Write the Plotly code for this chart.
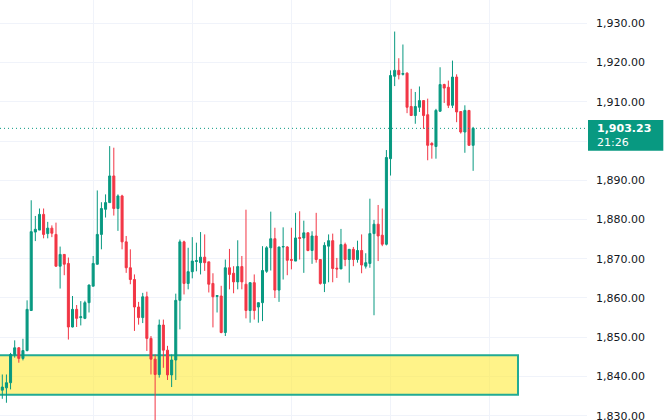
import plotly.graph_objects as go

# 15 min style candles (oldest first)
opens = [1836.5, 1837.1, 1838.4, 1845.6, 1847.3, 1844.6, 1846.6, 1856.8, 1876.8, 1877.3,
         1881.3, 1876.4, 1877.8, 1876.2, 1868.1, 1871.1, 1868.8, 1852.6, 1857.1, 1855.0,
         1854.8, 1858.8, 1863.0, 1868.6, 1876.2, 1882.6, 1884.3, 1891.1, 1882.8, 1886.0,
         1874.3, 1867.7, 1864.7, 1857.7, 1855.0, 1860.3, 1849.7, 1844.4, 1840.5, 1853.1,
         1846.7, 1840.4, 1844.2, 1859.4, 1874.3, 1863.7, 1866.7, 1869.3, 1869.0, 1870.4,
         1869.2, 1863.7, 1860.4, 1860.5, 1851.2, 1867.7, 1866.3, 1864.1, 1868.0, 1863.5,
         1856.8, 1863.9, 1857.7, 1858.8, 1866.8, 1872.8, 1875.1, 1862.0, 1873.0, 1873.0,
         1869.8, 1869.4, 1875.4, 1875.3, 1876.6, 1872.1, 1875.8, 1869.8, 1863.7, 1873.2,
         1874.6, 1867.6, 1867.4, 1873.6, 1869.8, 1872.4, 1869.8, 1872.1, 1868.1, 1868.8,
         1876.4, 1878.8, 1876.0, 1873.7, 1895.5, 1916.5, 1918.0, 1917.0, 1917.3, 1908.8,
         1906.5, 1908.6, 1910.3, 1906.7, 1899.4, 1898.6, 1907.6, 1914.4, 1913.7, 1909.1,
         1916.3, 1907.5, 1902.3, 1907.8, 1898.9]
highs = [1840.5, 1840.5, 1846.0, 1849.2, 1847.5, 1849.6, 1859.4, 1884.9, 1880.9, 1882.8,
         1882.8, 1879.4, 1878.5, 1879.2, 1873.1, 1871.2, 1870.3, 1860.5, 1858.2, 1859.2,
         1859.3, 1863.4, 1870.7, 1887.4, 1884.4, 1886.4, 1898.7, 1898.3, 1886.4, 1886.3,
         1875.8, 1872.4, 1866.0, 1859.0, 1861.3, 1861.6, 1850.3, 1845.6, 1854.5, 1854.5,
         1847.8, 1845.6, 1861.1, 1874.9, 1874.6, 1872.8, 1875.5, 1874.1, 1876.8, 1876.2,
         1869.2, 1866.3, 1860.6, 1863.1, 1869.8, 1872.5, 1868.1, 1874.7, 1870.7, 1882.5,
         1863.9, 1866.0, 1858.8, 1873.2, 1873.2, 1882.0, 1877.9, 1873.0, 1878.0, 1873.2,
         1877.9, 1881.7, 1882.1, 1879.7, 1876.7, 1877.0, 1881.7, 1869.9, 1874.2, 1876.2,
         1876.4, 1870.2, 1877.6, 1874.1, 1872.4, 1873.0, 1874.6, 1876.2, 1871.4, 1885.3,
         1879.9, 1883.7, 1882.8, 1897.7, 1918.0, 1927.9, 1921.1, 1924.6, 1917.5, 1913.3,
         1912.5, 1913.9, 1910.4, 1910.8, 1899.7, 1908.2, 1918.8, 1914.6, 1915.4, 1920.5,
         1917.0, 1907.5, 1909.1, 1907.8, 1903.6]
lows = [1834.3, 1833.3, 1836.7, 1844.8, 1843.5, 1844.1, 1846.4, 1856.7, 1874.5, 1877.3,
        1875.2, 1875.2, 1875.5, 1868.0, 1862.4, 1865.8, 1849.4, 1852.5, 1852.6, 1853.0,
        1854.6, 1856.3, 1863.0, 1868.5, 1872.4, 1880.5, 1884.3, 1881.0, 1877.1, 1872.4,
        1866.4, 1863.5, 1851.6, 1853.2, 1853.6, 1846.5, 1840.5, 1828.0, 1839.7, 1842.2,
        1839.1, 1837.3, 1839.1, 1852.0, 1860.9, 1862.2, 1865.0, 1866.8, 1866.0, 1866.9,
        1861.4, 1852.5, 1856.3, 1851.0, 1850.3, 1862.2, 1861.2, 1862.2, 1862.2, 1854.8,
        1853.7, 1854.5, 1853.7, 1854.1, 1866.4, 1867.0, 1860.0, 1859.0, 1864.7, 1865.8,
        1867.3, 1869.4, 1869.8, 1866.4, 1871.9, 1868.7, 1869.0, 1863.4, 1861.5, 1864.0,
        1864.0, 1865.1, 1867.4, 1868.1, 1863.9, 1868.1, 1869.0, 1866.3, 1867.5, 1867.7,
        1855.6, 1869.4, 1873.2, 1873.4, 1891.2, 1914.0, 1915.7, 1916.7, 1907.1, 1906.5,
        1904.4, 1907.4, 1903.1, 1895.1, 1895.5, 1895.5, 1907.4, 1909.7, 1908.4, 1908.4,
        1904.8, 1901.9, 1897.0, 1898.9, 1892.4]
closes = [1837.3, 1838.4, 1845.6, 1847.3, 1844.6, 1846.6, 1857.1, 1876.9, 1877.5, 1881.3,
          1876.2, 1877.8, 1876.5, 1868.1, 1871.1, 1868.6, 1852.6, 1857.1, 1854.8, 1855.2,
          1858.8, 1863.3, 1868.8, 1876.2, 1882.8, 1884.3, 1891.1, 1882.8, 1886.0, 1874.3,
          1867.7, 1864.7, 1857.7, 1855.0, 1860.3, 1849.7, 1844.4, 1840.5, 1853.1, 1846.7,
          1840.4, 1844.2, 1859.4, 1874.3, 1863.7, 1866.7, 1869.4, 1869.5, 1870.4, 1869.0,
          1863.5, 1860.3, 1860.6, 1851.2, 1867.7, 1866.0, 1864.1, 1868.0, 1864.1, 1856.8,
          1863.9, 1856.8, 1858.8, 1867.0, 1872.8, 1875.1, 1862.0, 1873.0, 1873.1, 1869.6,
          1869.6, 1875.3, 1875.2, 1876.6, 1872.1, 1875.8, 1869.8, 1863.7, 1873.4, 1874.6,
          1867.5, 1867.4, 1873.6, 1869.8, 1872.4, 1869.8, 1872.1, 1868.4, 1869.0, 1876.4,
          1878.8, 1875.8, 1873.7, 1895.8, 1916.7, 1918.0, 1916.9, 1917.2, 1908.6, 1906.5,
          1908.8, 1910.3, 1906.5, 1898.9, 1899.0, 1907.8, 1914.4, 1913.5, 1909.1, 1916.3,
          1907.4, 1902.3, 1907.8, 1898.9, 1903.23]
bars = list(range(len(opens)))

price_ticks = [1830, 1840, 1850, 1860, 1870, 1880, 1890, 1900, 1910, 1920, 1930]
# 1,900.00 sits under the live price tag, so its label is hidden
price_labels = ["" if p == 1900 else f"{p:,.2f}" for p in price_ticks]

last_price = 1903.23
last_label = "1,903.23"
countdown = "21:26"

# demand zone
zone_low = 1835.35
zone_high = 1845.4
zone_end = 124.86

up = "#089981"
down = "#f23645"
grid = "#f0f3fa"
font_name = "DejaVu Sans"

fig = go.Figure()
fig.add_trace(go.Candlestick(
    x=bars, open=opens, high=highs, low=lows, close=closes,
    increasing=dict(line=dict(color=up, width=1), fillcolor=up),
    decreasing=dict(line=dict(color=down, width=1), fillcolor=down),
    showlegend=False, hoverinfo="skip"))

fig.add_shape(type="rect", xref="x", yref="y", x0=-5, x1=zone_end, y0=zone_low, y1=zone_high,
              line=dict(color="#22ab94", width=2), fillcolor="rgba(255,235,59,0.6)", layer="between")

fig.add_shape(type="line", xref="paper", yref="y", x0=0, x1=1, y0=last_price, y1=last_price,
              line=dict(color=up, width=1, dash="1px,3px"), layer="above")

# price tag on the scale
fig.add_shape(type="rect", xref="paper", yref="y", x0=1.0017, x1=1.13,
              y0=last_price - 5.7, y1=last_price + 2.13,
              line=dict(width=0), fillcolor=up, layer="above")
fig.add_annotation(xref="paper", yref="y", x=1.0136, y=last_price, xanchor="left", yanchor="middle",
                   text="<b>" + last_label + "</b>", showarrow=False,
                   font=dict(family=font_name, size=11, color="white"))
fig.add_annotation(xref="paper", yref="y", x=1.0136, y=last_price, xanchor="left", yanchor="middle",
                   yshift=-14, text=countdown, showarrow=False,
                   font=dict(family=font_name, size=11, color="white"))

fig.update_layout(
    width=671, height=420,
    margin=dict(l=0, r=84, t=0, b=0, autoexpand=False),
    paper_bgcolor="white", plot_bgcolor="white",
    font=dict(family=font_name, size=11, color="#131722"),
    xaxis=dict(range=[-0.557, 141.57], rangeslider=dict(visible=False),
               tickvals=[22, 46, 70, 94, 118], showticklabels=False,
               showgrid=True, gridcolor=grid, gridwidth=1, zeroline=False, showline=False, ticks=""),
    yaxis=dict(range=[1828.9, 1935.94], side="right", tickmode="array",
               tickvals=price_ticks, ticktext=price_labels, showgrid=True, gridcolor=grid, gridwidth=1,
               zeroline=False, showline=False, ticks="", ticklabelstandoff=8,
               ticklabeloverflow="allow"),
)

# page has a default body margin, drop it so the chart sits flush at the top left
fig.write_html("out.html", config={"displayModeBar": False},
               post_script="document.body.style.margin='0';")
